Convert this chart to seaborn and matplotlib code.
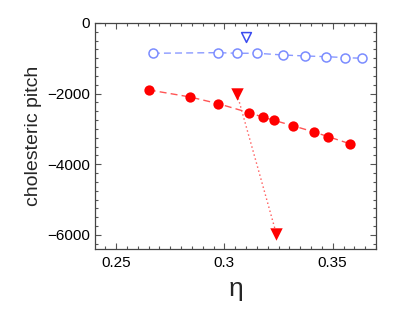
import matplotlib
matplotlib.use("Agg")
import matplotlib.pyplot as plt
import seaborn as sns
import pandas as pd
from matplotlib.ticker import MultipleLocator, FuncFormatter

# data
blue_eta = [0.2670, 0.2971, 0.3059, 0.3151, 0.3269, 0.3373, 0.3470, 0.3559, 0.3635]
blue_pitch = [-857, -840, -857, -857, -905, -934, -953, -981, -999]
blue_tri_eta = [0.310]
blue_tri_pitch = [-388]
red_eta = [0.2651, 0.2840, 0.2971, 0.3112, 0.3180, 0.3227, 0.3319, 0.3412, 0.3478, 0.3581]
red_pitch = [-1895, -2093, -2283, -2537, -2667, -2752, -2914, -3083, -3216, -3423]
red_tri_eta = [0.3059, 0.3240]
red_tri_pitch = [-2017, -5969]
xticks = [0.25, 0.3, 0.35]
yticks = [0, -2000, -4000, -6000]

sns.set_style("ticks")
plt.rcParams['font.family'] = ['Liberation Sans', 'DejaVu Sans']

fig = plt.figure(figsize=(4.15, 3.13), dpi=100)
ax = fig.add_axes([95/415, 1-249/313, (376-95)/415, (249-23)/313])

dfb = pd.DataFrame({"eta": blue_eta, "p": blue_pitch})
dfr = pd.DataFrame({"eta": red_eta, "p": red_pitch})
dft = pd.DataFrame({"eta": red_tri_eta, "p": red_tri_pitch})
dfbt = pd.DataFrame({"eta": blue_tri_eta, "p": blue_tri_pitch})

sns.lineplot(data=dfb, x="eta", y="p", ax=ax, color="#8a99ff", lw=1.0,
             linestyle=(0, (5, 3)), sort=False)
sns.scatterplot(data=dfb, x="eta", y="p", ax=ax, marker="o", s=42,
                facecolor="white", edgecolor="#7b8cff", linewidth=1.1, zorder=3)
sns.scatterplot(data=dfbt, x="eta", y="p", ax=ax, marker="v", s=50,
                facecolor="white", edgecolor="#3b4cf0", linewidth=1.1, zorder=3)

sns.lineplot(data=dfr, x="eta", y="p", ax=ax, color="#ff5555", lw=1.0,
             linestyle=(0, (5, 3)), sort=False)
sns.scatterplot(data=dfr, x="eta", y="p", ax=ax, marker="o", s=55,
                color="#ff0000", edgecolor="#ff0000", linewidth=0, zorder=3)

sns.lineplot(data=dft, x="eta", y="p", ax=ax, color="#ff5555", lw=1.0,
             linestyle=(0, (1, 2)), sort=False)
sns.scatterplot(data=dft, x="eta", y="p", ax=ax, marker="v", s=80,
                color="#ff0000", edgecolor="#ff0000", linewidth=0, zorder=3)

ax.set_xlim(0.2403, 0.370)
ax.set_ylim(-6400, 0)
ax.set_xticks(xticks)
ax.set_yticks(yticks)
ax.xaxis.set_minor_locator(MultipleLocator(0.005))
ax.yaxis.set_minor_locator(MultipleLocator(250))
ax.xaxis.set_major_formatter(FuncFormatter(lambda v, p: f"{v:g}"))
ax.yaxis.set_major_formatter(FuncFormatter(lambda v, p: f"{int(v)}".replace("-", "\u2212")))
ax.tick_params(which="both", direction="in", top=True, right=True, colors="#555555",
               labelcolor="black", labelsize=11, width=0.8)
ax.tick_params(which="major", length=4)
ax.tick_params(which="minor", length=2)
ax.tick_params(axis="x", which="major", pad=5)
for s in ax.spines.values():
    s.set_color("#444444")
    s.set_linewidth(0.9)

ax.set_xlabel("η", fontsize=19, labelpad=5)
ax.set_ylabel("cholesteric pitch", fontsize=14, labelpad=4)

fig.savefig("out.png", dpi=100)
